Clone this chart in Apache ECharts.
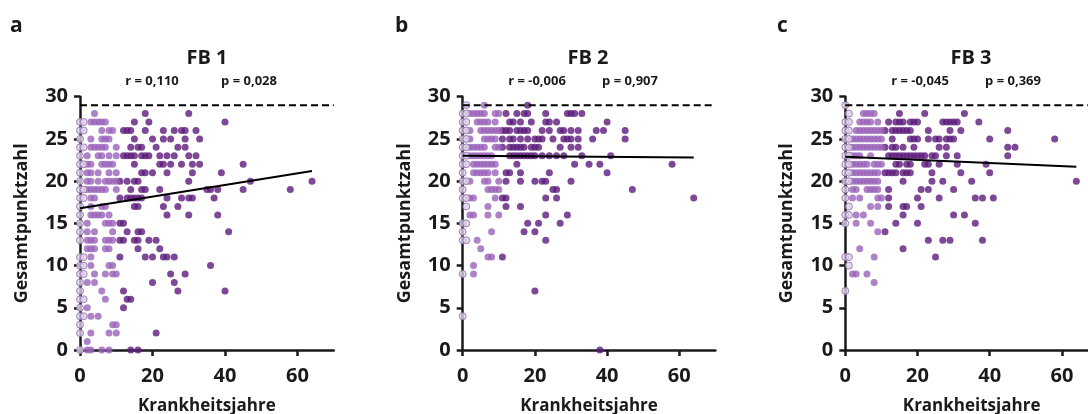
<!DOCTYPE html>
<html><head><meta charset="utf-8">
<script src="https://cdn.jsdelivr.net/npm/echarts@6/dist/echarts.min.js"></script>
<style>html,body{margin:0;padding:0;background:#fff}#c{width:1088px;height:414px}</style>
</head><body><div id="c"></div><script>
// rows: [score, [disease years ...]]
const fb1Rows = [
 [28,[4,18,30]],
 [27,[0,1,3,4,5,6,7,15,19,40]],
 [26,[0,1,6,8,9,12,13,14,18,23,26,28,29,32]],
 [25,[0,3,6,7,8,15,20,23,25,29,33]],
 [24,[0,1,3,4,5,6,7,10,14,16,17,21,27,29]],
 [23,[0,2,5,6,8,10,12,13,14,15,17,18,19,22,24,26,30,32]],
 [22,[0,1,2,3,6,7,8,9,15,22,23,25,28,31,33,45]],
 [21,[0,2,3,5,8,10,17,18,20,24,31,39]],
 [20,[0,2,3,5,7,8,9,10,11,13,15,16,30,47,64]],
 [19,[0,1,2,3,4,5,6,7,10,14,17,18,22,35,36,38,45,58]],
 [18,[0,1,3,4,11,13,14,15,16,17,24,28,30,31,37]],
 [17,[0,3,6,7,15,16,23,27]],
 [16,[0,3,4,5,6,8,24,30,38]],
 [15,[0,2,7,8,9,11,12]],
 [14,[0,2,4,9,13,16,17,41]],
 [13,[0,2,3,4,7,8,9,11,12,15,16,19,21]],
 [12,[2,3,4,7,8,16,22]],
 [11,[0,1,3,11,18,20,23,24,26]],
 [10,[0,1,3,8,9,36]],
 [9,[0,1,4,7,9,10,25,29]],
 [8,[0,2,4,20,26]],
 [7,[0,6,12,27,40]],
 [6,[0,1,7,13,14]],
 [5,[0,2,12]],
 [4,[0,1,3,5]],
 [3,[0,9,10]],
 [2,[0,3,8,10,21]],
 [1,[2]],
 [0,[0,2,3,6,8,14,16]]
];
const fb2Rows = [
 [29,[1,6,18]],
 [28,[0,1,2,3,4,5,6,9,10,12,15,17,18,23,29,30,31,33]],
 [27,[0,1,4,5,6,7,9,13,14,16,19,23,24,26,40]],
 [26,[0,1,2,5,6,7,8,9,10,11,12,13,15,16,17,18,22,24,27,28,30,32,37,39,45]],
 [25,[0,1,2,6,7,8,9,11,13,14,16,18,20,21,22,25,28,29,30,32,36,45]],
 [24,[0,1,2,3,4,5,6,9,10,11,13,14,15,16,17,19,20,21,27,30,32]],
 [23,[0,1,2,3,4,5,6,7,8,13,14,15,16,17,18,19,20,22,24,26,28,33,41]],
 [22,[0,1,3,4,5,6,7,8,9,15,31,35,38,58]],
 [21,[0,3,4,5,6,7,9,12,13,16,24,40]],
 [20,[0,1,2,6,7,10,12,16,20,22,23,30]],
 [19,[0,7,8,9,10,25,26,47]],
 [18,[0,1,2,3,9,11,12,23,26,64]],
 [17,[1,7,12,16]],
 [16,[2,3,7,10,23,29]],
 [15,[0,1,18,21,27]],
 [14,[0,8,17,20]],
 [13,[0,1,4,23]],
 [12,[5]],
 [11,[7,8,11]],
 [10,[3]],
 [9,[0,3]],
 [7,[20]],
 [4,[0]],
 [0,[38]]
];
const fb3Rows = [
 [29,[0]],
 [28,[1,5,6,7,8,15,22,33]],
 [27,[0,1,4,5,6,7,9,12,14,15,16,18,19,20,27,28,29,30,31,37]],
 [26,[0,1,3,4,5,6,7,8,9,10,11,13,14,15,16,17,18,23,29,32,45]],
 [25,[0,1,2,3,4,5,6,7,8,9,10,13,18,19,20,23,25,26,28,29,30,40,58]],
 [24,[0,1,2,3,4,5,6,7,8,9,10,11,13,14,16,19,26,28,45,47]],
 [23,[0,1,2,3,4,7,12,13,14,15,16,17,18,19,20,21,22,24,25,28,31,45]],
 [22,[0,1,2,3,4,5,6,8,9,10,14,15,17,18,22,23,26,31,39]],
 [21,[0,1,2,3,4,5,6,7,8,9,11,12,13,14,16,17,18,24,32,40]],
 [20,[0,1,2,3,4,5,6,7,8,9,16,24,27,35,64]],
 [19,[0,2,3,6,7,8,9,12,21,23,30]],
 [18,[0,2,4,9,10,12,20,26,36,38,41]],
 [17,[1,7,9,12,16,17,21]],
 [16,[0,1,3,5,16,30,33]],
 [15,[0,3,7,14,20,36]],
 [14,[9,11]],
 [13,[23,27,29,38]],
 [12,[4,16]],
 [11,[0,1,8,25]],
 [10,[1]],
 [9,[2,3,6]],
 [8,[8]],
 [7,[0]]
];
const panelRows = [fb1Rows, fb2Rows, fb3Rows];
const panelTitles = ['FB 1','FB 2','FB 3'];
const panelLetters = ['a','b','c'];
const rTexts = ['r = 0,110','r = -0,006','r = -0,045'];
const pTexts = ['p = 0,028','p = 0,907','p = 0,369'];
const fitLines = [
 [[0,16.8],[64,21.2]],
 [[0,23.0],[64,22.8]],
 [[0,22.9],[64,21.7]]
];
const maxScore = 29;
const xMax = 70;
const yMax = 30;
const xTicks = [0,20,40,60];
const xName = 'Krankheitsjahre';
const yName = 'Gesamtpunktzahl';

// layout (pixels)
const gridLefts = [80, 462.7, 845.3];
const gridWidths = [253.75, 252.7, 252.7];
const gridTop = 96.7, gridHeight = 253.3;
const titleX = [207, 588, 971];
const rX = [152, 537, 920];
const pX = [249, 630, 1013];
const letterX = [10, 395, 777];

const FONT = '"Open Sans", sans-serif';
const INK = '#1a1a1a';
const colLight = '#dccfe9', colLightBorder = '#8d6aa9', colMid = '#9a63b9', colDark = '#5c1a7b';

const grids = [], xAxes = [], yAxes = [], series = [], graphics = [];
panelRows.forEach((rows, i) => {
  grids.push({left: gridLefts[i], top: gridTop, width: gridWidths[i], height: gridHeight, containLabel: false, outerBoundsMode: 'none'});
  xAxes.push({
    gridIndex: i, type: 'value', min: 0, max: xMax, interval: 20,
    name: xName, nameLocation: 'middle', nameGap: 48,
    nameTextStyle: {fontFamily: FONT, fontWeight: 'bold', fontSize: 17, color: INK},
    axisLine: {lineStyle: {color: INK, width: 2.5}},
    axisTick: {customValues: xTicks, length: 6, lineStyle: {color: INK, width: 2.5}},
    axisLabel: {customValues: xTicks, margin: 16, fontFamily: FONT, fontWeight: 'bold', fontSize: 20, color: INK},
    splitLine: {show: false}
  });
  yAxes.push({
    gridIndex: i, type: 'value', min: 0, max: yMax, interval: 5,
    name: yName, nameLocation: 'middle', nameGap: 49, nameRotate: 90,
    nameTextStyle: {fontFamily: FONT, fontWeight: 'bold', fontSize: 18, color: INK},
    axisLine: {show: true, lineStyle: {color: INK, width: 2.5}},
    axisTick: {show: true, length: 6, lineStyle: {color: INK, width: 2.5}},
    axisLabel: {margin: 12, fontFamily: FONT, fontWeight: 'bold', fontSize: 20, color: INK},
    splitLine: {show: false}
  });
  const light = [], mid = [], dark = [];
  rows.forEach(([y, xs]) => xs.forEach(x => (x <= 1 ? light : x <= 10 ? mid : dark).push([x, y])));
  series.push({type: 'scatter', xAxisIndex: i, yAxisIndex: i, data: dark, symbolSize: 7, itemStyle: {color: colDark}, z: 3});
  series.push({type: 'scatter', xAxisIndex: i, yAxisIndex: i, data: mid, symbolSize: 7, itemStyle: {color: colMid}, z: 3});
  series.push({type: 'scatter', xAxisIndex: i, yAxisIndex: i, data: light, symbolSize: 7, itemStyle: {color: colLight, borderColor: colLightBorder, borderWidth: 1}, z: 4});
  series.push({type: 'line', xAxisIndex: i, yAxisIndex: i, data: fitLines[i], symbol: 'none', lineStyle: {color: '#000', width: 2}, z: 5});
  series.push({type: 'line', xAxisIndex: i, yAxisIndex: i, data: [[0, maxScore], [xMax, maxScore]], symbol: 'none', lineStyle: {color: '#000', width: 2, type: [7, 4]}, z: 5});
  graphics.push({type: 'text', x: letterX[i], y: 26, style: {text: panelLetters[i], font: 'bold 21px ' + FONT, fill: INK, verticalAlign: 'middle'}});
  graphics.push({type: 'text', x: titleX[i], y: 58, style: {text: panelTitles[i], font: 'bold 20px ' + FONT, fill: INK, align: 'center', verticalAlign: 'middle'}});
  graphics.push({type: 'text', x: rX[i], y: 81, style: {text: rTexts[i], font: 'bold 13px ' + FONT, fill: INK, align: 'center', verticalAlign: 'middle'}});
  graphics.push({type: 'text', x: pX[i], y: 81, style: {text: pTexts[i], font: 'bold 13px ' + FONT, fill: INK, align: 'center', verticalAlign: 'middle'}});
});

const chart = echarts.init(document.getElementById('c'), null, {renderer: 'canvas'});
chart.setOption({
  animation: false,
  backgroundColor: '#fff',
  grid: grids, xAxis: xAxes, yAxis: yAxes, series: series, graphic: graphics
});
</script></body></html>
